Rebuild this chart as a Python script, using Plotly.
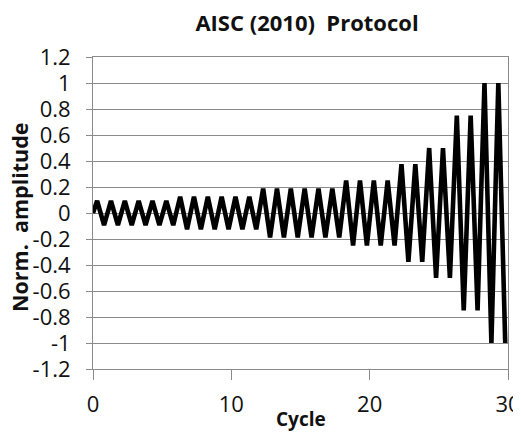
import plotly.graph_objects as go

# AISC (2010) loading protocol: normalized amplitude levels and number of cycles at each level
level_amplitudes = [0.094, 0.125, 0.1875, 0.25, 0.375, 0.5, 0.75, 1.0]
level_cycles = [6, 6, 6, 4, 2, 2, 2, 2]
# position of peak and trough inside each cycle (fraction of a cycle)
peak_phase = 0.3
trough_phase = 0.8

y_tick_values = [1.2, 1.0, 0.8, 0.6, 0.4, 0.2, 0.0, -0.2, -0.4, -0.6, -0.8, -1.0, -1.2]
y_tick_labels = ["1.2", "1", "0.8", "0.6", "0.4", "0.2", "0", "-0.2", "-0.4", "-0.6", "-0.8", "-1", "-1.2"]
x_tick_values = [0, 10, 20, 30]
x_tick_labels = ["0", "10", "20", "30"]

cycle_x = [0.0]
amp_y = [0.0]
cycle = 0
for amp, n in zip(level_amplitudes, level_cycles):
    for _ in range(n):
        cycle_x += [cycle + peak_phase, cycle + trough_phase]
        amp_y += [amp, -amp]
        cycle += 1

FONT = "Open Sans"
GRID = "#8a8a8a"
TXT = "#111111"

# the page body has an 8px margin, so the figure is 8px smaller than the window
W, H = 513, 430
L, R, T, B = 85, 13, 49, 69
PW, PH = W - L - R, H - T - B

fig = go.Figure()
fig.add_trace(go.Scatter(x=cycle_x, y=amp_y, mode="lines",
                         line=dict(color="black", width=4.6), showlegend=False))

fig.update_layout(
    width=W, height=H,
    margin=dict(l=L, r=R, t=T, b=B),
    paper_bgcolor="white", plot_bgcolor="white",
    font=dict(family=FONT, color=TXT),
    title=dict(text="<b>AISC (2010)\u00a0 Protocol</b>", x=299 / W, xanchor="center",
               xref="container", yref="container",
               y=1 - 15 / H, yanchor="middle", font=dict(size=22, family=FONT, color=TXT)),
    annotations=[
        dict(text="<b>Cycle</b>", xref="paper", yref="paper",
             x=(293 - L) / PW, y=(T + PH - 411) / PH, xanchor="center", yanchor="middle",
             showarrow=False, font=dict(size=19, family=FONT, color=TXT)),
        dict(text="<b>Norm.\u00a0 amplitude</b>", xref="paper", yref="paper", textangle=-90,
             x=(11 - L) / PW, y=(T + PH - 209) / PH, xanchor="center", yanchor="middle",
             showarrow=False, borderpad=0, font=dict(size=21.5, family=FONT, color=TXT)),
    ],
)
fig.update_xaxes(range=[0, 30], tickvals=x_tick_values, ticktext=x_tick_labels,
                 showgrid=False, zeroline=False, showline=True, linecolor=GRID, linewidth=1,
                 mirror=True, ticks="outside", ticklen=10, tickcolor=GRID, automargin=False,
                 tickfont=dict(size=22, family=FONT, color=TXT), ticklabelstandoff=6)
fig.update_yaxes(range=[-1.2, 1.2], tickvals=y_tick_values, ticktext=y_tick_labels,
                 showgrid=True, gridcolor=GRID, gridwidth=1, zeroline=False,
                 showline=True, linecolor=GRID, linewidth=1, mirror=True,
                 ticks="outside", ticklen=6, tickcolor=GRID, automargin=False,
                 tickfont=dict(size=22, family=FONT, color=TXT), ticklabelstandoff=11)

fig.write_html("out.html")
